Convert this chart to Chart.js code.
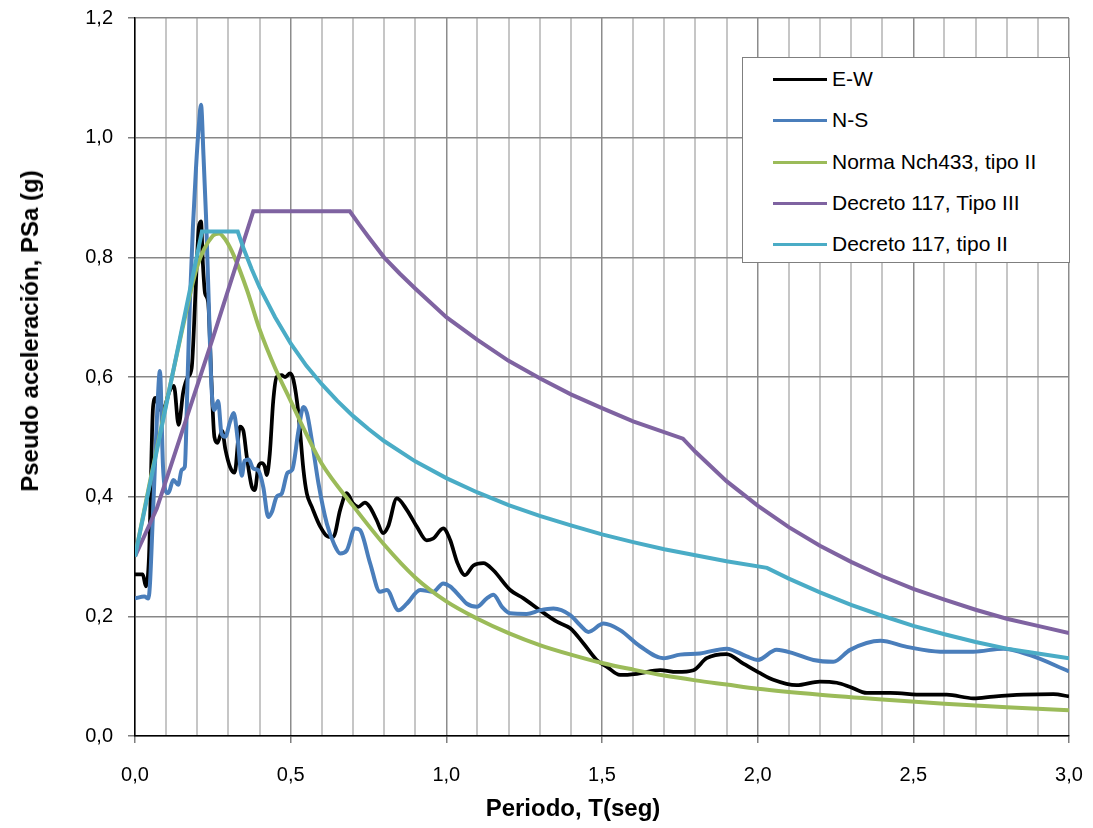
<!DOCTYPE html>
<html>
<head>
<meta charset="utf-8">
<script src="https://cdn.jsdelivr.net/npm/chart.js@4.4.1/dist/chart.umd.min.js"></script>
<style>
  body { margin: 0; background: #fff; }
  #wrap { position: relative; width: 1093px; height: 828px; font-family: 'Liberation Sans', Arial, sans-serif; color: #000; }
  #legend { position: absolute; left: 742px; top: 57px; width: 328px; height: 206px; border: 1px solid #7f7f7f; background: #fff; box-sizing: border-box; }
  .row { position: absolute; left: 0; width: 100%; height: 26px; }
  .swatch { position: absolute; left: 30px; top: 12px; width: 54px; height: 3px; }
  .label { position: absolute; left: 89px; top: 0; font-size: 21px; line-height: 26px; white-space: nowrap; }
  .axis-title { position: absolute; font-weight: bold; font-size: 24px; white-space: nowrap; }
  #xtitle { left: 573px; top: 808px; transform: translate(-50%, -50%); }
  #ytitle { left: 30px; top: 331px; transform: translate(-50%, -50%) rotate(-90deg); }
</style>
</head>
<body>
<div id="wrap">
  <canvas id="spectraChart" width="1093" height="828"></canvas>
  <div id="legend"></div>
  <div class="axis-title" id="xtitle">Periodo, T(seg)</div>
  <div class="axis-title" id="ytitle">Pseudo aceleración, PSa (g)</div>
</div>
<script>
// E-W record
const ewT = [0.000, 0.025, 0.035, 0.045, 0.058, 0.066, 0.080, 0.095, 0.110, 0.125, 0.140, 0.155, 0.170, 0.182, 0.195, 0.205, 0.212, 0.218, 0.225, 0.235, 0.245, 0.255, 0.265, 0.280, 0.290, 0.305, 0.320, 0.337, 0.348, 0.359, 0.375, 0.385, 0.396, 0.407, 0.417, 0.423, 0.433, 0.444, 0.455, 0.471, 0.482, 0.498, 0.509, 0.525, 0.541, 0.552, 0.568, 0.595, 0.622, 0.637, 0.659, 0.680, 0.700, 0.717, 0.738, 0.754, 0.776, 0.797, 0.813, 0.841, 0.873, 0.905, 0.937, 0.958, 0.990, 1.012, 1.035, 1.060, 1.087, 1.119, 1.151, 1.205, 1.248, 1.301, 1.355, 1.398, 1.440, 1.483, 1.515, 1.558, 1.612, 1.687, 1.740, 1.794, 1.836, 1.900, 1.954, 2.008, 2.050, 2.125, 2.200, 2.254, 2.297, 2.351, 2.426, 2.533, 2.607, 2.693, 2.757, 2.854, 2.950, 3.000];
const ewPSa = [0.270, 0.270, 0.250, 0.300, 0.550, 0.565, 0.545, 0.550, 0.575, 0.585, 0.520, 0.575, 0.600, 0.615, 0.750, 0.850, 0.860, 0.790, 0.740, 0.725, 0.600, 0.500, 0.490, 0.510, 0.480, 0.450, 0.440, 0.517, 0.510, 0.467, 0.417, 0.411, 0.450, 0.456, 0.450, 0.436, 0.472, 0.560, 0.600, 0.603, 0.600, 0.606, 0.595, 0.539, 0.445, 0.405, 0.383, 0.350, 0.333, 0.333, 0.378, 0.406, 0.389, 0.383, 0.390, 0.383, 0.361, 0.339, 0.350, 0.397, 0.378, 0.350, 0.327, 0.330, 0.347, 0.328, 0.290, 0.269, 0.285, 0.289, 0.277, 0.244, 0.230, 0.210, 0.191, 0.180, 0.155, 0.127, 0.116, 0.102, 0.104, 0.110, 0.107, 0.110, 0.130, 0.137, 0.121, 0.105, 0.094, 0.085, 0.091, 0.089, 0.082, 0.072, 0.072, 0.069, 0.069, 0.063, 0.066, 0.069, 0.070, 0.066];

// N-S record
const nsT = [0.000, 0.030, 0.043, 0.060, 0.072, 0.080, 0.090, 0.098, 0.107, 0.123, 0.139, 0.150, 0.160, 0.168, 0.176, 0.186, 0.196, 0.205, 0.212, 0.220, 0.228, 0.236, 0.246, 0.255, 0.267, 0.278, 0.290, 0.305, 0.317, 0.330, 0.343, 0.352, 0.365, 0.380, 0.396, 0.412, 0.428, 0.440, 0.455, 0.471, 0.490, 0.505, 0.525, 0.541, 0.552, 0.568, 0.590, 0.616, 0.640, 0.659, 0.680, 0.707, 0.723, 0.755, 0.787, 0.809, 0.846, 0.873, 0.916, 0.958, 0.990, 1.012, 1.044, 1.066, 1.098, 1.130, 1.151, 1.180, 1.205, 1.258, 1.300, 1.344, 1.398, 1.430, 1.456, 1.505, 1.558, 1.622, 1.697, 1.751, 1.815, 1.900, 1.965, 2.000, 2.061, 2.115, 2.179, 2.243, 2.297, 2.394, 2.479, 2.586, 2.693, 2.789, 2.875, 3.000];
const nsPSa = [0.230, 0.233, 0.230, 0.400, 0.550, 0.610, 0.450, 0.410, 0.406, 0.428, 0.420, 0.445, 0.450, 0.580, 0.720, 0.850, 0.950, 1.020, 1.055, 0.970, 0.870, 0.740, 0.580, 0.545, 0.560, 0.505, 0.500, 0.525, 0.540, 0.495, 0.435, 0.460, 0.462, 0.447, 0.444, 0.416, 0.366, 0.375, 0.400, 0.405, 0.440, 0.445, 0.510, 0.550, 0.540, 0.494, 0.420, 0.355, 0.320, 0.305, 0.310, 0.347, 0.344, 0.289, 0.241, 0.244, 0.210, 0.221, 0.244, 0.241, 0.255, 0.250, 0.233, 0.221, 0.216, 0.230, 0.236, 0.215, 0.205, 0.204, 0.210, 0.213, 0.202, 0.185, 0.174, 0.188, 0.177, 0.150, 0.130, 0.136, 0.138, 0.146, 0.133, 0.127, 0.144, 0.138, 0.127, 0.124, 0.144, 0.159, 0.149, 0.141, 0.141, 0.146, 0.135, 0.108];

// Norma NCh433, suelo tipo II
const nchT = [0.00, 0.05, 0.10, 0.15, 0.20, 0.25, 0.27, 0.29, 0.32, 0.36, 0.40, 0.45, 0.50, 0.55, 0.60, 0.70, 0.80, 0.90, 1.00, 1.10, 1.20, 1.30, 1.40, 1.50, 1.60, 1.70, 1.80, 1.90, 2.00, 2.20, 2.40, 2.60, 2.80, 3.00];
const nchPSa = [0.300, 0.430, 0.555, 0.675, 0.785, 0.836, 0.840, 0.830, 0.800, 0.745, 0.680, 0.615, 0.560, 0.505, 0.455, 0.385, 0.320, 0.265, 0.225, 0.196, 0.172, 0.152, 0.136, 0.122, 0.111, 0.101, 0.093, 0.086, 0.079, 0.069, 0.061, 0.054, 0.048, 0.043];

// Decreto 117, suelo tipo III
const d117t3T = [0.00, 0.07, 0.25, 0.38, 0.69, 0.72, 0.75, 0.80, 0.85, 0.90, 1.00, 1.10, 1.20, 1.30, 1.40, 1.50, 1.60, 1.76, 1.80, 1.90, 2.00, 2.10, 2.20, 2.30, 2.40, 2.50, 2.60, 2.70, 2.80, 2.90, 3.00];
const d117t3PSa = [0.300, 0.380, 0.665, 0.877, 0.877, 0.855, 0.834, 0.800, 0.773, 0.748, 0.700, 0.662, 0.627, 0.598, 0.571, 0.548, 0.526, 0.497, 0.475, 0.426, 0.385, 0.349, 0.318, 0.291, 0.267, 0.246, 0.228, 0.211, 0.196, 0.184, 0.172];

// Decreto 117, suelo tipo II
const d117t2T = [0.00, 0.215, 0.33, 0.35, 0.375, 0.40, 0.45, 0.50, 0.55, 0.60, 0.65, 0.70, 0.75, 0.80, 0.90, 1.00, 1.10, 1.20, 1.30, 1.40, 1.50, 1.60, 1.70, 1.80, 1.90, 2.03, 2.10, 2.20, 2.30, 2.40, 2.50, 2.60, 2.70, 2.80, 2.90, 3.00];
const d117t2PSa = [0.300, 0.843, 0.843, 0.813, 0.780, 0.750, 0.700, 0.656, 0.619, 0.588, 0.560, 0.535, 0.513, 0.493, 0.459, 0.431, 0.407, 0.386, 0.368, 0.352, 0.337, 0.324, 0.312, 0.302, 0.292, 0.281, 0.263, 0.240, 0.219, 0.201, 0.184, 0.170, 0.157, 0.146, 0.138, 0.130];

// Axis ticks
const xTicks = [0.0, 0.5, 1.0, 1.5, 2.0, 2.5, 3.0];
const yTicks = [0.0, 0.2, 0.4, 0.6, 0.8, 1.0, 1.2];

const seriesNames = ['E-W', 'N-S', 'Norma Nch433, tipo II', 'Decreto 117, Tipo III', 'Decreto 117, tipo II'];
const seriesColors = ['#000000', '#4a7ebb', '#9bbb59', '#7f63a1', '#4aacc6'];
// measured records and the smooth code curve are splined, the code spectra with corners are straight segments
const seriesSmooth = [true, true, true, false, false];

function toPoints(ts, vals) {
  return ts.map((t, i) => ({ x: t, y: vals[i] }));
}

const seriesData = [
  toPoints(ewT, ewPSa),
  toPoints(nsT, nsPSa),
  toPoints(nchT, nchPSa),
  toPoints(d117t3T, d117t3PSa),
  toPoints(d117t2T, d117t2PSa)
];

function fmt(v) {
  return v.toFixed(1).replace('.', ',');
}

function isMajorX(v) {
  return xTicks.some(t => Math.abs(t - v) < 1e-6);
}

/**
 * Build the chart
 */
function initSpectraChart() {
  const ctx = document.getElementById('spectraChart');

  new Chart(ctx, {
    type: 'line',
    data: {
      datasets: seriesData.map((pts, i) => ({
        label: seriesNames[i],
        data: pts,
        borderColor: seriesColors[i],
        backgroundColor: seriesColors[i],
        borderWidth: i === 0 ? 3.75 : 4,
        pointRadius: 0,
        fill: false,
        cubicInterpolationMode: seriesSmooth[i] ? 'monotone' : 'default',
        tension: 0,
        order: seriesNames.length - i
      }))
    },
    options: {
      responsive: false,
      animation: false,
      layout: {
        padding: { top: 18, right: 24, left: 0, bottom: 0 }
      },
      plugins: {
        legend: { display: false },
        tooltip: { enabled: false }
      },
      scales: {
        x: {
          type: 'linear',
          min: 0,
          max: 3,
          afterBuildTicks: scale => {
            const ticks = [];
            for (let k = 0; k <= 30; k++) ticks.push({ value: k / 10 });
            scale.ticks = ticks;
          },
          afterFit: scale => {
            scale.height = 92;
            scale.paddingLeft = 0;
            scale.paddingRight = 0;
          },
          ticks: {
            autoSkip: false,
            maxRotation: 0,
            padding: 20,
            color: '#000',
            font: { family: "'Liberation Sans', Arial, sans-serif", size: 20 },
            callback: value => isMajorX(value) ? fmt(value) : ''
          },
          grid: {
            color: c => isMajorX(c.tick.value) ? '#8c8c8c' : '#c6c6c6',
            lineWidth: c => isMajorX(c.tick.value) ? 1.5 : 2,
            tickLength: 7,
            tickColor: c => isMajorX(c.tick.value) ? '#7f7f7f' : 'rgba(0,0,0,0)'
          },
          border: { color: '#000', width: 1.5 }
        },
        y: {
          min: 0,
          max: 1.2,
          afterBuildTicks: scale => {
            scale.ticks = yTicks.map(v => ({ value: v }));
          },
          afterFit: scale => {
            scale.width = 135;
            scale.paddingTop = 0;
            scale.paddingBottom = 0;
          },
          ticks: {
            padding: 15,
            color: '#000',
            font: { family: "'Liberation Sans', Arial, sans-serif", size: 20 },
            callback: value => fmt(value)
          },
          grid: {
            color: '#878787',
            lineWidth: 1.5,
            tickLength: 7,
            tickColor: '#7f7f7f'
          },
          border: { color: '#000', width: 1.5 }
        }
      }
    }
  });
}

/**
 * Legend box inside the plot area
 */
function buildLegend() {
  const legend = document.getElementById('legend');
  legend.innerHTML = seriesNames.map((name, i) => `
    <div class="row" style="top:${8 + i * 41.3}px">
      <div class="swatch" style="background:${seriesColors[i]}"></div>
      <div class="label">${name}</div>
    </div>
  `).join('');
}

buildLegend();
initSpectraChart();
</script>
</body>
</html>
